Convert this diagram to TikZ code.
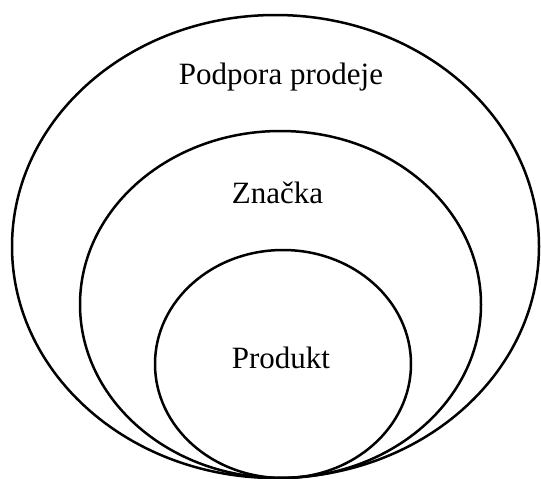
\documentclass[tikz,border=0pt]{standalone}
\usepackage{fontspec}
\setmainfont{Liberation Serif}
\begin{document}
\begin{tikzpicture}[x=1pt,y=-1pt,
  ring/.style={draw=black,line width=2.5pt},
  lbl/.style={font=\fontsize{31}{36}\selectfont,anchor=base,inner sep=0pt}]
\useasboundingbox (0,0) rectangle (541,479);
\draw[ring] (275.5,246.5) ellipse [x radius=263.5, y radius=231.5];
\draw[ring] (280.5,304.5) ellipse [x radius=200.5, y radius=173.5];
\draw[ring] (283,364) ellipse [x radius=128, y radius=114];
\node[lbl] (outer) at (281,84) {Podpora prodeje};
\node[lbl] (mid) at (277.5,203) {Značka};
\node[lbl] (inner) at (281,368) {Produkt};
\end{tikzpicture}
\end{document}
